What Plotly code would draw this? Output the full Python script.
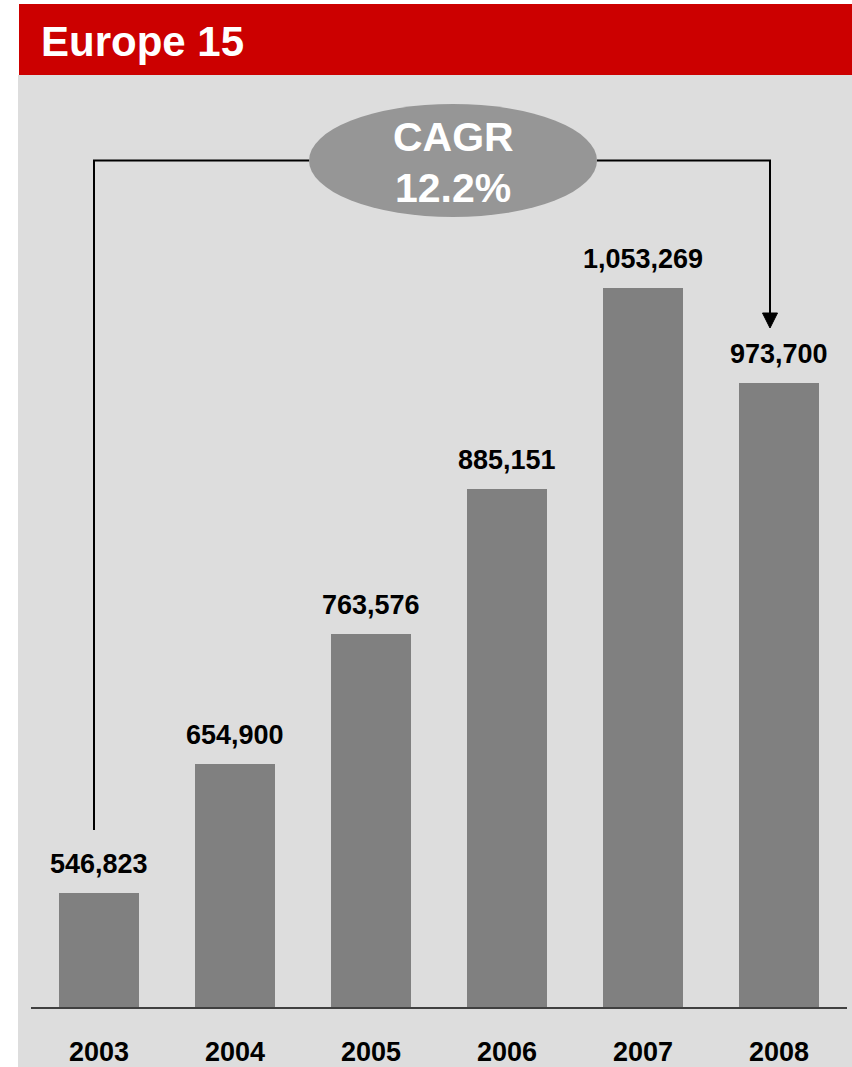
import plotly.graph_objects as go

# ---- data ----
years = ["2003", "2004", "2005", "2006", "2007", "2008"]
values = [546823, 654900, 763576, 885151, 1053269, 973700]
value_labels = ["546,823", "654,900", "763,576", "885,151", "1,053,269", "973,700"]
title_text = "Europe 15"
cagr_lines = ["CAGR", "12.2%"]

W, H = 852, 1067
L, R, T, B = 31, 5, 100, 60
PW = W - L - R
PH = H - T - B


def px(x):
    return (x - L) / PW


def py(y):
    return (H - B - y) / PH


FONT = "Liberation Sans, Arial, Helvetica, sans-serif"

fig = go.Figure()
fig.add_trace(go.Bar(
    x=years, y=values, marker=dict(color="#808080", line=dict(width=0)),
    width=80 / 136, hoverinfo="skip",
))

shapes = []
shapes.append(dict(type="rect", xref="paper", yref="paper", x0=px(18), x1=px(852), y0=py(75), y1=py(1067),
                   fillcolor="#DDDDDD", line=dict(width=0), layer="below"))
shapes.append(dict(type="rect", xref="paper", yref="paper", x0=px(19), x1=px(852), y0=py(4), y1=py(75),
                   fillcolor="#CC0000", line=dict(width=0), layer="above"))
shapes.append(dict(type="path", xref="paper", yref="paper",
                   path=f"M{px(94)},{py(830)} L{px(94)},{py(160.5)} L{px(309)},{py(160.5)}",
                   line=dict(color="black", width=2), layer="above"))
shapes.append(dict(type="path", xref="paper", yref="paper",
                   path=f"M{px(597)},{py(160.5)} L{px(770)},{py(160.5)} L{px(770)},{py(314)}",
                   line=dict(color="black", width=2), layer="above"))
shapes.append(dict(type="path", xref="paper", yref="paper",
                   path=f"M{px(762.5)},{py(313)} L{px(777.5)},{py(313)} L{px(770)},{py(328)} Z",
                   fillcolor="black", line=dict(color="black", width=1), layer="above"))
shapes.append(dict(type="circle", xref="paper", yref="paper", x0=px(309), x1=px(597), y0=py(217), y1=py(104),
                   fillcolor="#969696", line=dict(width=0), layer="above"))

annotations = []
annotations.append(dict(text=f"<b>{title_text}</b>", xref="paper", yref="paper", x=px(39), y=py(42),
                        xanchor="left", yanchor="middle", showarrow=False,
                        font=dict(family=FONT, size=42, color="white")))
for txt, yy in zip(cagr_lines, [137, 188]):
    annotations.append(dict(text=f"<b>{txt}</b>", xref="paper", yref="paper", x=px(453), y=py(yy),
                            xanchor="center", yanchor="middle", showarrow=False,
                            font=dict(family=FONT, size=41, color="white")))
for i, (v, lab) in enumerate(zip(values, value_labels)):
    annotations.append(dict(text=f"<b>{lab}</b>", x=i, y=v, xref="x", yref="y",
                            xanchor="center", yanchor="middle", yshift=29, showarrow=False,
                            font=dict(family=FONT, size=27, color="black")))

fig.update_layout(
    width=W, height=H, autosize=False, margin=dict(l=L, r=R, t=T, b=B, autoexpand=False),
    paper_bgcolor="white", plot_bgcolor="rgba(0,0,0,0)",
    showlegend=False, shapes=shapes, annotations=annotations,
    bargap=0,
    xaxis=dict(type="category", range=[-0.5, 5.5], showgrid=False, zeroline=False,
               showline=True, linecolor="#404040", linewidth=1.5, ticks="", automargin=False,
               tickfont=dict(family=FONT, size=27, color="black", weight="bold"),
               ticklabelstandoff=20),
    yaxis=dict(range=[451300, 1211000], visible=False, showgrid=False, zeroline=False, automargin=False),
)

fig.write_html("out.html", config={"responsive": False})
